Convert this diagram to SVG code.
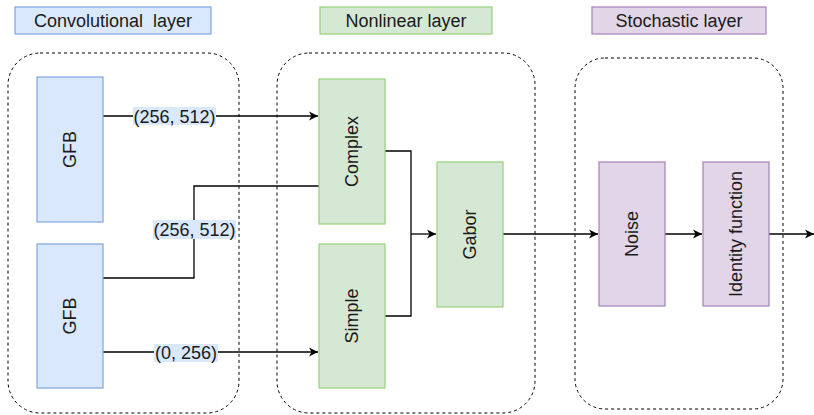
<svg xmlns="http://www.w3.org/2000/svg" width="814" height="415" viewBox="0 0 814 415">
<style>
text{font-family:"Liberation Sans",Arial,sans-serif;fill:#1a1a1a;font-size:18px}
.blue{fill:#dae8fc;stroke:#7ea6e0;stroke-width:1.2}
.green{fill:#d5e8d4;stroke:#97d077;stroke-width:1.2}
.purple{fill:#e1d5e7;stroke:#a680b8;stroke-width:1.2}
.cont{fill:none;stroke:#000;stroke-width:1;stroke-dasharray:3 3}
.c{fill:none;stroke:#000;stroke-width:1.3}
.lb{fill:#dae8fc}
</style>
<defs>
<marker id="a" markerWidth="12" markerHeight="12" refX="10" refY="6" orient="auto" markerUnits="userSpaceOnUse">
<path d="M1,1.5 L10,6 L1,10.5 L3.5,6 Z" fill="#000"/>
</marker>
</defs>
<g id="title-conv"><rect class="blue" x="15" y="7" width="196" height="27"/><text x="113" y="27" text-anchor="middle" xml:space="preserve">Convolutional  layer</text></g>
<g id="title-nonlin"><rect class="green" x="320" y="7" width="172" height="27"/><text x="406" y="27" text-anchor="middle">Nonlinear layer</text></g>
<g id="title-stoch"><rect class="purple" x="592" y="7" width="174" height="27"/><text x="679" y="27" text-anchor="middle">Stochastic layer</text></g>
<g id="cont-conv"><rect class="cont" x="8" y="53" width="231" height="360" rx="32"/></g>
<g id="cont-nonlin"><rect class="cont" x="277" y="53" width="258" height="360" rx="32"/></g>
<g id="cont-stoch"><rect class="cont" x="575" y="58" width="208" height="351" rx="30"/></g>
<g id="connectors">
<path class="c" d="M103,116 H318" marker-end="url(#a)"/>
<path class="c" d="M103,278 H194 V186 H319"/>
<path class="c" d="M103,352 H318" marker-end="url(#a)"/>
<path class="c" d="M385,151 H411 V316 H385"/>
<path class="c" d="M411,234 H436" marker-end="url(#a)"/>
<path class="c" d="M503,234 H598" marker-end="url(#a)"/>
<path class="c" d="M665,234 H702" marker-end="url(#a)"/>
<path class="c" d="M769,234 H814" marker-end="url(#a)"/>
<rect class="lb" x="133" y="107" width="83" height="18"/><text x="174.5" y="122.5" text-anchor="middle">(256, 512)</text>
<rect class="lb" x="153" y="220" width="83" height="19"/><text x="194.5" y="236" text-anchor="middle">(256, 512)</text>
<rect class="lb" x="154" y="344" width="64" height="18"/><text x="186" y="359" text-anchor="middle">(0, 256)</text>
</g>
<g id="gfb1"><rect class="blue" x="37" y="77" width="66" height="145"/><text transform="translate(76,149.5) rotate(-90)" text-anchor="middle">GFB</text></g>
<g id="gfb2"><rect class="blue" x="37" y="244" width="66" height="144"/><text transform="translate(76,316) rotate(-90)" text-anchor="middle">GFB</text></g>
<g id="complex"><rect class="green" x="319" y="79" width="66" height="145"/><text transform="translate(358,151.5) rotate(-90)" text-anchor="middle">Complex</text></g>
<g id="simple"><rect class="green" x="319" y="244" width="66" height="144"/><text transform="translate(358,316) rotate(-90)" text-anchor="middle">Simple</text></g>
<g id="gabor"><rect class="green" x="437" y="162" width="66" height="145"/><text transform="translate(476,234.5) rotate(-90)" text-anchor="middle">Gabor</text></g>
<g id="noise"><rect class="purple" x="599" y="162" width="66" height="144"/><text transform="translate(638,234) rotate(-90)" text-anchor="middle">Noise</text></g>
<g id="identity"><rect class="purple" x="703" y="162" width="66" height="144"/><text transform="translate(742,234) rotate(-90)" text-anchor="middle">Identity function</text></g>
</svg>
